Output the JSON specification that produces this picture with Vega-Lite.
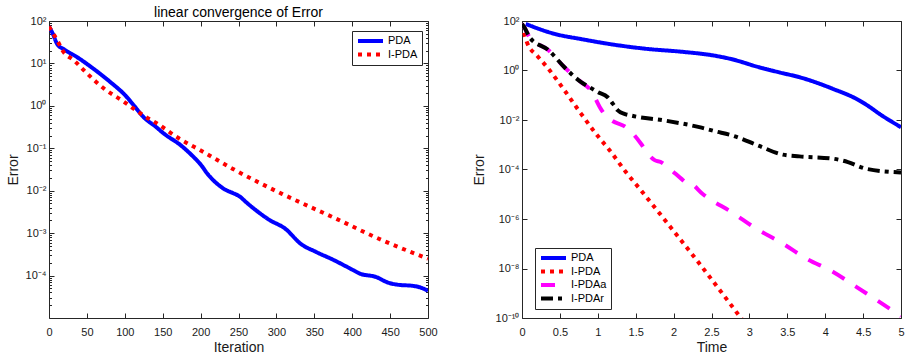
{
  "$schema": "https://vega.github.io/schema/vega-lite/v6.json",
  "background": "white",
  "padding": {"left": 5, "top": 5, "right": 0, "bottom": 0},
  "bounds": "flush",
  "spacing": 94,
  "config": {
    "font": "Liberation Sans",
    "view": {"stroke": "#262626", "strokeWidth": 1},
    "axis": {
      "domain": false, "grid": false,
      "labelFont": "Liberation Sans", "labelFontSize": 11, "labelColor": "#1a1a1a",
      "titleFont": "Liberation Sans", "titleFontSize": 14, "titleFontWeight": "normal", "titleColor": "#1a1a1a",
      "tickColor": "#262626", "tickWidth": 1, "tickSize": 5, "offset": -5,
      "labelOverlap": false, "labelFlush": false, "labelBound": false
    },
    "legend": {
      "symbolType": "stroke", "symbolSize": 625, "symbolStrokeWidth": 4,
      "labelFont": "Liberation Sans", "labelFontSize": 11, "labelColor": "#000000",
      "padding": 4, "strokeColor": "#262626", "fillColor": "white",
      "rowPadding": 1.5, "labelOffset": 3, "clipHeight": 12
    }
  },
  "resolve": {"scale": {"color": "independent", "strokeDash": "independent"}, "legend": {"color": "independent", "strokeDash": "independent"}},
  "hconcat": [
    {
      "width": 379, "height": 297,
      "title": {"text": "linear convergence of Error", "fontSize": 14, "fontWeight": "normal", "font": "Liberation Sans", "color": "#000000", "offset": -5},
      "data": {"values": [
        {"method": "PDA", "iter": 0, "err": 74.1},
        {"method": "PDA", "iter": 5, "err": 50.1},
        {"method": "PDA", "iter": 11, "err": 28.2},
        {"method": "PDA", "iter": 20, "err": 21.4},
        {"method": "PDA", "iter": 37, "err": 14.1},
        {"method": "PDA", "iter": 59, "err": 7.41},
        {"method": "PDA", "iter": 81, "err": 3.63},
        {"method": "PDA", "iter": 101, "err": 1.74},
        {"method": "PDA", "iter": 112, "err": 1.02},
        {"method": "PDA", "iter": 125, "err": 0.537},
        {"method": "PDA", "iter": 140, "err": 0.331},
        {"method": "PDA", "iter": 152, "err": 0.219},
        {"method": "PDA", "iter": 174, "err": 0.117},
        {"method": "PDA", "iter": 191, "err": 0.0617},
        {"method": "PDA", "iter": 200, "err": 0.0417},
        {"method": "PDA", "iter": 209, "err": 0.0251},
        {"method": "PDA", "iter": 222, "err": 0.0145},
        {"method": "PDA", "iter": 232, "err": 0.0107},
        {"method": "PDA", "iter": 242, "err": 0.00891},
        {"method": "PDA", "iter": 251, "err": 0.00741},
        {"method": "PDA", "iter": 262, "err": 0.00501},
        {"method": "PDA", "iter": 273, "err": 0.00347},
        {"method": "PDA", "iter": 290, "err": 0.00209},
        {"method": "PDA", "iter": 312, "err": 0.00126},
        {"method": "PDA", "iter": 332, "err": 0.000562},
        {"method": "PDA", "iter": 352, "err": 0.000363},
        {"method": "PDA", "iter": 374, "err": 0.00024},
        {"method": "PDA", "iter": 396, "err": 0.000151},
        {"method": "PDA", "iter": 411, "err": 0.00011},
        {"method": "PDA", "iter": 431, "err": 0.0000933},
        {"method": "PDA", "iter": 448, "err": 0.0000676},
        {"method": "PDA", "iter": 462, "err": 0.0000603},
        {"method": "PDA", "iter": 479, "err": 0.0000575},
        {"method": "PDA", "iter": 490, "err": 0.0000525},
        {"method": "PDA", "iter": 500, "err": 0.0000437},
        {"method": "I-PDA", "iter": 0, "err": 74.1},
        {"method": "I-PDA", "iter": 5, "err": 52.5},
        {"method": "I-PDA", "iter": 11, "err": 34.7},
        {"method": "I-PDA", "iter": 18, "err": 19.95},
        {"method": "I-PDA", "iter": 33, "err": 11.75},
        {"method": "I-PDA", "iter": 51, "err": 5.62},
        {"method": "I-PDA", "iter": 73, "err": 2.51},
        {"method": "I-PDA", "iter": 97, "err": 1.318},
        {"method": "I-PDA", "iter": 112, "err": 0.851},
        {"method": "I-PDA", "iter": 125, "err": 0.589},
        {"method": "I-PDA", "iter": 143, "err": 0.38},
        {"method": "I-PDA", "iter": 169, "err": 0.182},
        {"method": "I-PDA", "iter": 204, "err": 0.0813},
        {"method": "I-PDA", "iter": 242, "err": 0.0331},
        {"method": "I-PDA", "iter": 308, "err": 0.00832},
        {"method": "I-PDA", "iter": 374, "err": 0.0024},
        {"method": "I-PDA", "iter": 440, "err": 0.000676},
        {"method": "I-PDA", "iter": 500, "err": 0.00025}
      ]},
      "layer": [
        {
          "mark": {"type": "line", "clip": true, "strokeWidth": 4, "interpolate": "monotone", "strokeCap": "butt"},
          "encoding": {
            "x": {"field": "iter", "type": "quantitative", "scale": {"domain": [0, 500], "nice": false},
                  "axis": {"orient": "bottom", "values": [0, 50, 100, 150, 200, 250, 300, 350, 400, 450, 500], "format": "d", "labelPadding": 8, "title": "Iteration", "titlePadding": 3}},
            "y": {"field": "err", "type": "quantitative", "scale": {"type": "log", "domain": [0.00001, 100], "nice": false},
                  "axis": {"orient": "left", "title": "Error", "titlePadding": 5, "labelPadding": 3,
                           "values": [0.0001, 0.001, 0.01, 0.1, 1, 10, 100],
                           "labelExpr": "'10' + (datum.value < 0.5 ? '⁻' : '') + (abs(round(log(datum.value)/LN10)) == 10 ? '¹⁰' : substring('⁰¹²³⁴⁵⁶⁷⁸⁹', abs(round(log(datum.value)/LN10)), abs(round(log(datum.value)/LN10)) + 1))"}},
            "color": {"field": "method", "type": "nominal", "scale": {"domain": ["PDA", "I-PDA"], "range": ["#0000ff", "#ff0000"]},
                      "legend": {"title": null, "orient": "none", "legendX": 303, "legendY": 10}},
            "strokeDash": {"field": "method", "type": "nominal", "scale": {"domain": ["PDA", "I-PDA"], "range": [[1, 0], [4, 5]]},
                      "legend": {"title": null, "orient": "none", "legendX": 303, "legendY": 10}}
          }
        },
        {
          "mark": {"type": "point", "opacity": 0, "clip": true},
          "encoding": {
            "x": {"field": "iter", "type": "quantitative", "scale": {"domain": [0, 500], "nice": false},
                  "axis": {"orient": "top", "labels": false, "title": null, "values": [0, 50, 100, 150, 200, 250, 300, 350, 400, 450, 500]}},
            "y": {"field": "err", "type": "quantitative", "scale": {"type": "log", "domain": [0.00001, 100], "nice": false},
                  "axis": {"orient": "right", "labels": false, "title": null, "values": [0.0001, 0.001, 0.01, 0.1, 1, 10, 100]}}
          }
        },
        {
          "mark": {"type": "point", "opacity": 0, "clip": true},
          "encoding": {
            "x": {"field": "iter", "type": "quantitative", "scale": {"domain": [0, 500], "nice": false}, "axis": null},
            "y": {"field": "err", "type": "quantitative", "scale": {"type": "log", "domain": [0.00001, 100], "nice": false},
                  "axis": {"orient": "left", "labels": false, "title": null, "tickSize": 2.5, "offset": -2.5,
                           "values": [0.00002, 0.00003, 0.00004, 0.00005, 0.00006, 0.00007, 0.00008, 0.00009, 0.0002, 0.0003, 0.0004, 0.0005, 0.0006, 0.0007, 0.0008, 0.0009, 0.002, 0.003, 0.004, 0.005, 0.006, 0.007, 0.008, 0.009, 0.02, 0.03, 0.04, 0.05, 0.06, 0.07, 0.08, 0.09, 0.2, 0.3, 0.4, 0.5, 0.6, 0.7, 0.8, 0.9, 2, 3, 4, 5, 6, 7, 8, 9, 20, 30, 40, 50, 60, 70, 80, 90]}}
          }
        },
        {
          "mark": {"type": "point", "opacity": 0, "clip": true},
          "encoding": {
            "x": {"field": "iter", "type": "quantitative", "scale": {"domain": [0, 500], "nice": false}, "axis": null},
            "y": {"field": "err", "type": "quantitative", "scale": {"type": "log", "domain": [0.00001, 100], "nice": false},
                  "axis": {"orient": "right", "labels": false, "title": null, "tickSize": 2.5, "offset": -2.5,
                           "values": [0.00002, 0.00003, 0.00004, 0.00005, 0.00006, 0.00007, 0.00008, 0.00009, 0.0002, 0.0003, 0.0004, 0.0005, 0.0006, 0.0007, 0.0008, 0.0009, 0.002, 0.003, 0.004, 0.005, 0.006, 0.007, 0.008, 0.009, 0.02, 0.03, 0.04, 0.05, 0.06, 0.07, 0.08, 0.09, 0.2, 0.3, 0.4, 0.5, 0.6, 0.7, 0.8, 0.9, 2, 3, 4, 5, 6, 7, 8, 9, 20, 30, 40, 50, 60, 70, 80, 90]}}
          }
        }
      ],
      "resolve": {"axis": {"x": "independent", "y": "independent"}}
    },
    {
      "width": 379, "height": 297,
      "data": {"values": [
        {"method": "PDA", "t": 0.05, "err": 75.9},
        {"method": "PDA", "t": 0.43, "err": 30.2},
        {"method": "PDA", "t": 0.78, "err": 18.6},
        {"method": "PDA", "t": 1.22, "err": 10.96},
        {"method": "PDA", "t": 1.66, "err": 7.41},
        {"method": "PDA", "t": 2.1, "err": 5.75},
        {"method": "PDA", "t": 2.54, "err": 3.98},
        {"method": "PDA", "t": 2.75, "err": 2.95},
        {"method": "PDA", "t": 3.13, "err": 1.35},
        {"method": "PDA", "t": 3.4, "err": 0.832},
        {"method": "PDA", "t": 3.66, "err": 0.537},
        {"method": "PDA", "t": 4.1, "err": 0.182},
        {"method": "PDA", "t": 4.45, "err": 0.0617},
        {"method": "PDA", "t": 4.6, "err": 0.0316},
        {"method": "PDA", "t": 4.7, "err": 0.0191},
        {"method": "PDA", "t": 5.0, "err": 0.00513},
        {"method": "I-PDA", "t": 0, "err": 75.9},
        {"method": "I-PDA", "t": 0.07, "err": 12.6},
        {"method": "I-PDA", "t": 0.2, "err": 3.98},
        {"method": "I-PDA", "t": 0.34, "err": 1.26},
        {"method": "I-PDA", "t": 0.56, "err": 0.158},
        {"method": "I-PDA", "t": 0.78, "err": 0.0178},
        {"method": "I-PDA", "t": 1.0, "err": 0.00224},
        {"method": "I-PDA", "t": 1.15, "err": 0.000631},
        {"method": "I-PDA", "t": 1.37, "err": 0.0000794},
        {"method": "I-PDA", "t": 1.55, "err": 0.000017},
        {"method": "I-PDA", "t": 1.9, "err": 7.94e-7},
        {"method": "I-PDA", "t": 2.34, "err": 1.58e-8},
        {"method": "I-PDA", "t": 2.9, "err": 8.9e-11},
        {"method": "I-PDAa", "t": 0, "err": 75.9},
        {"method": "I-PDAa", "t": 0.03, "err": 56.2},
        {"method": "I-PDAa", "t": 0.1, "err": 21.9},
        {"method": "I-PDAa", "t": 0.35, "err": 6.6},
        {"method": "I-PDAa", "t": 0.56, "err": 1.35},
        {"method": "I-PDAa", "t": 0.78, "err": 0.339},
        {"method": "I-PDAa", "t": 0.91, "err": 0.155},
        {"method": "I-PDAa", "t": 1.04, "err": 0.0282},
        {"method": "I-PDAa", "t": 1.11, "err": 0.0141},
        {"method": "I-PDAa", "t": 1.2, "err": 0.00891},
        {"method": "I-PDAa", "t": 1.35, "err": 0.00562},
        {"method": "I-PDAa", "t": 1.42, "err": 0.0038},
        {"method": "I-PDAa", "t": 1.57, "err": 0.0011},
        {"method": "I-PDAa", "t": 1.66, "err": 0.000437},
        {"method": "I-PDAa", "t": 1.75, "err": 0.00024},
        {"method": "I-PDAa", "t": 1.83, "err": 0.0002},
        {"method": "I-PDAa", "t": 1.92, "err": 0.000126},
        {"method": "I-PDAa", "t": 2.1, "err": 0.0000427},
        {"method": "I-PDAa", "t": 2.16, "err": 0.0000302},
        {"method": "I-PDAa", "t": 2.23, "err": 0.0000269},
        {"method": "I-PDAa", "t": 2.38, "err": 0.0000105},
        {"method": "I-PDAa", "t": 2.78, "err": 1.78e-6},
        {"method": "I-PDAa", "t": 3.09, "err": 4.07e-7},
        {"method": "I-PDAa", "t": 3.44, "err": 1.02e-7},
        {"method": "I-PDAa", "t": 3.75, "err": 2.51e-8},
        {"method": "I-PDAa", "t": 4.1, "err": 7.41e-9},
        {"method": "I-PDAa", "t": 4.41, "err": 1.82e-9},
        {"method": "I-PDAa", "t": 4.71, "err": 4.57e-10},
        {"method": "I-PDAa", "t": 5.0, "err": 1.2e-10},
        {"method": "I-PDAr", "t": 0, "err": 75.9},
        {"method": "I-PDAr", "t": 0.03, "err": 56.2},
        {"method": "I-PDAr", "t": 0.1, "err": 21.9},
        {"method": "I-PDAr", "t": 0.35, "err": 6.6},
        {"method": "I-PDAr", "t": 0.56, "err": 1.35},
        {"method": "I-PDAr", "t": 0.78, "err": 0.339},
        {"method": "I-PDAr", "t": 0.89, "err": 0.214},
        {"method": "I-PDAr", "t": 1.0, "err": 0.133},
        {"method": "I-PDAr", "t": 1.13, "err": 0.0832},
        {"method": "I-PDAr", "t": 1.2, "err": 0.0447},
        {"method": "I-PDAr", "t": 1.26, "err": 0.0251},
        {"method": "I-PDAr", "t": 1.35, "err": 0.0178},
        {"method": "I-PDAr", "t": 1.44, "err": 0.0151},
        {"method": "I-PDAr", "t": 1.88, "err": 0.00955},
        {"method": "I-PDAr", "t": 2.34, "err": 0.00513},
        {"method": "I-PDAr", "t": 2.54, "err": 0.00355},
        {"method": "I-PDAr", "t": 2.78, "err": 0.00234},
        {"method": "I-PDAr", "t": 3.13, "err": 0.000891},
        {"method": "I-PDAr", "t": 3.44, "err": 0.000398},
        {"method": "I-PDAr", "t": 3.66, "err": 0.000339},
        {"method": "I-PDAr", "t": 4.1, "err": 0.000275},
        {"method": "I-PDAr", "t": 4.3, "err": 0.0002},
        {"method": "I-PDAr", "t": 4.54, "err": 0.000107},
        {"method": "I-PDAr", "t": 5.0, "err": 0.0000759}
      ]},
      "layer": [
        {
          "mark": {"type": "line", "clip": true, "strokeWidth": 4, "interpolate": "monotone", "strokeCap": "butt"},
          "encoding": {
            "x": {"field": "t", "type": "quantitative", "scale": {"domain": [0, 5], "nice": false},
                  "axis": {"orient": "bottom", "values": [0, 0.5, 1, 1.5, 2, 2.5, 3, 3.5, 4, 4.5, 5], "format": "~g", "labelPadding": 8, "title": "Time", "titlePadding": 3}},
            "y": {"field": "err", "type": "quantitative", "scale": {"type": "log", "domain": [1e-10, 100], "nice": false},
                  "axis": {"orient": "left", "title": "Error", "titlePadding": 9, "labelPadding": 3,
                           "values": [1e-10, 1e-8, 1e-6, 0.0001, 0.01, 1, 100],
                           "labelExpr": "'10' + (datum.value < 0.5 ? '⁻' : '') + (abs(round(log(datum.value)/LN10)) == 10 ? '¹⁰' : substring('⁰¹²³⁴⁵⁶⁷⁸⁹', abs(round(log(datum.value)/LN10)), abs(round(log(datum.value)/LN10)) + 1))"}},
            "color": {"field": "method", "type": "nominal", "scale": {"domain": ["PDA", "I-PDA", "I-PDAa", "I-PDAr"], "range": ["#0000ff", "#ff0000", "#ff00ff", "#000000"]},
                      "legend": {"title": null, "orient": "none", "legendX": 13, "legendY": 227}},
            "strokeDash": {"field": "method", "type": "nominal", "scale": {"domain": ["PDA", "I-PDA", "I-PDAa", "I-PDAr"], "range": [[1, 0], [4, 5], [14, 13], [12, 5, 4, 5]]},
                      "legend": {"title": null, "orient": "none", "legendX": 13, "legendY": 227}}
          }
        },
        {
          "mark": {"type": "point", "opacity": 0, "clip": true},
          "encoding": {
            "x": {"field": "t", "type": "quantitative", "scale": {"domain": [0, 5], "nice": false},
                  "axis": {"orient": "top", "labels": false, "title": null, "values": [0, 0.5, 1, 1.5, 2, 2.5, 3, 3.5, 4, 4.5, 5]}},
            "y": {"field": "err", "type": "quantitative", "scale": {"type": "log", "domain": [1e-10, 100], "nice": false},
                  "axis": {"orient": "right", "labels": false, "title": null, "values": [1e-10, 1e-8, 1e-6, 0.0001, 0.01, 1, 100]}}
          }
        }
      ],
      "resolve": {"axis": {"x": "independent", "y": "independent"}}
    }
  ]
}
